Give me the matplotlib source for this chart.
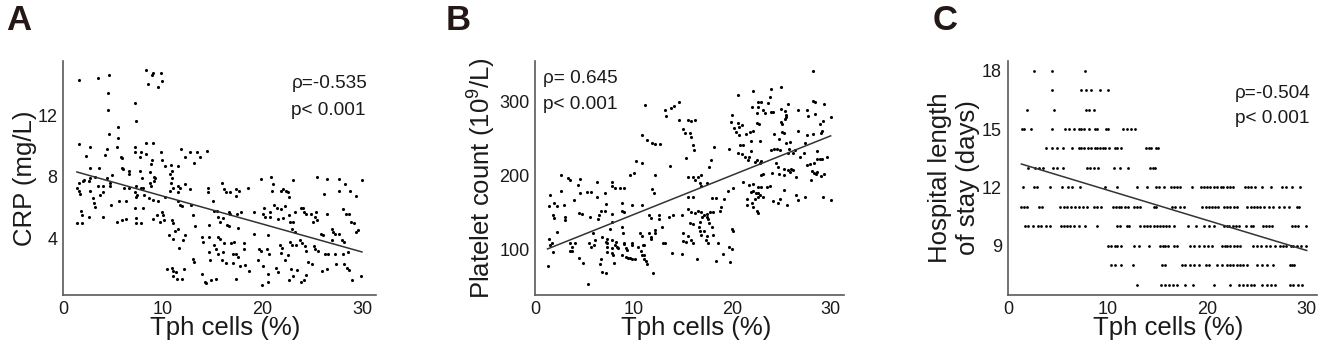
#!/usr/bin/env python3
import numpy as np
import matplotlib.pyplot as plt
plt.switch_backend('agg')

plt.rcParams['font.family'] = ['Liberation Sans', 'DejaVu Sans']
plt.rcParams['mathtext.fontset'] = 'custom'
plt.rcParams['mathtext.rm'] = 'Liberation Sans'

# ---- panel A: Tph cells (%) vs CRP (mg/L)
a_tph = [1.6, 3.5, 4.6, 4.5, 4.5, 8.3, 8.9, 9.0, 9.8, 8.5, 9.9, 9.5, 7.2, 7.3, 5.5, 4.6, 5.5,
         1.6, 2.7, 2.3, 4.4, 4.2, 5.4, 5.8, 5.95, 7.2, 7.2, 7.7, 7.8, 8.3, 9.0, 8.3, 9.8, 9.9,
         11.8, 12.2, 12.7, 13.5, 13.8, 13.1, 14.5, 8.9, 2.7, 3.6, 5.9, 6.0, 6.6, 6.6, 7.7, 8.7,
         8.8, 10.2, 10.8, 11.5, 10.9, 4.9, 2.7, 1.6, 2.0, 2.1, 1.6, 1.7, 1.4, 2.6, 2.7, 3.2,
         3.5, 4.0, 4.0, 3.7, 3.0, 3.1, 3.2, 4.4, 4.7, 4.7, 4.8, 1.8, 1.9, 1.4, 1.9, 2.6, 4.0,
         5.4, 5.9, 6.3, 5.6, 6.3, 6.1, 6.6, 7.2, 7.3, 7.9, 7.8, 8.0, 7.4, 7.3, 8.1, 7.2, 8.0,
         7.3, 7.3, 7.8, 8.6, 9.1, 9.2, 9.1, 8.7, 8.8, 9.5, 9.0, 9.0, 9.4, 9.7, 10.1, 9.9, 10.0,
         10.2, 10.7, 10.9, 10.8, 11.0, 10.7, 11.5, 11.7, 11.5, 11.5, 11.7, 11.9, 12.2, 12.7,
         12.8, 13.0, 10.9, 11.0, 11.2, 10.6, 11.0, 11.5, 11.6, 12.0, 12.2, 13.3, 14.0, 14.1,
         14.7, 14.7, 14.8, 15.2, 14.6, 14.6, 15.1, 14.7, 13.0, 13.1, 10.4, 10.9, 11.0, 11.3,
         11.0, 11.4, 11.9, 12.1, 14.0, 14.3, 14.4, 14.9, 15.4,
         16.0, 16.2, 16.4, 16.8, 17.4, 17.7, 18.6, 17.4, 19.85, 20.9, 21.1, 22.1, 22.4, 22.6,
         22.7, 21.9, 21.0, 23.1, 25.5, 26.5, 27.7, 28.3, 30.0, 26.2, 27.7, 28.8, 29.4, 15.2,
         15.5, 15.6, 15.8, 16.1, 16.7, 16.8, 17.5, 17.9, 16.5, 16.7, 17.6, 19.2, 20.2, 20.1,
         20.3, 21.2, 21.5, 21.9, 22.3, 20.8, 20.8, 21.6, 22.1, 22.7, 22.8, 23.1, 23.3, 23.9,
         24.1, 24.2, 24.4, 24.9, 25.4, 25.3, 25.1, 25.5, 26.5, 27.0, 27.1, 28.1, 28.4, 28.7,
         28.9, 29.2, 29.4, 29.6, 15.6, 15.8, 16.2, 15.4, 15.6, 16.1, 16.0, 16.4, 16.9, 17.2,
         18.2, 17.1, 17.4, 17.6, 17.1, 17.8, 18.3, 18.7, 17.4, 18.2, 19.7, 19.9, 19.2, 19.6,
         20.6, 20.5, 20.7, 20.1, 20.6, 20.0, 20.6, 21.4, 21.6, 21.8, 22.0, 21.9, 22.3, 22.6,
         23.0, 23.3, 22.8, 23.0, 23.4, 22.9, 23.5, 22.7, 23.1, 23.8, 24.0, 24.3, 24.4, 25.2,
         25.3, 25.6, 23.9, 24.2, 24.4, 24.6, 25.0, 25.9, 26.1, 26.3, 26.6, 26.0, 26.5, 27.3,
         27.4, 27.0, 27.3, 27.7, 28.0, 28.2, 28.1, 28.6, 28.2, 28.5, 28.7, 29.0, 29.9]
a_crp = [14.3, 14.4, 14.6, 13.4, 12.3, 14.9, 14.6, 14.7, 14.7, 14.0, 14.2, 13.8, 12.8, 11.6,
         11.2, 10.8, 10.5, 10.1, 9.9, 9.35, 9.8, 9.4, 9.9, 9.3, 9.2, 9.9, 9.6, 9.3, 9.6, 10.2,
         10.2, 9.5, 9.6, 9.1, 9.8, 9.3, 9.6, 9.6, 9.3, 8.9, 9.7, 9.1, 8.55, 8.6, 8.55, 8.5, 8.4,
         8.2, 8.4, 8.3, 8.8, 8.7, 8.75, 8.7, 8.4, 8.1, 7.9, 7.6, 7.7, 7.8, 7.1, 6.9, 7.3, 7.7,
         7.1, 8.0, 7.4, 7.4, 7.0, 6.8, 6.6, 6.3, 6.05, 7.9, 7.4, 7.6, 6.2, 5.8, 5.5, 5.0, 5.0,
         5.4, 5.4, 5.1, 5.2, 5.25, 6.4, 6.4, 7.3, 7.3, 7.0, 7.4, 7.9, 7.3, 7.3, 6.8, 6.7, 6.8,
         6.0, 6.0, 5.3, 5.0, 5.0, 6.6, 8.0, 7.9, 7.75, 7.6, 7.4, 6.4, 6.5, 5.25, 5.5, 5.1, 5.2,
         5.7, 5.5, 6.7, 8.2, 7.9, 7.6, 7.3, 7.1, 7.4, 7.3, 7.0, 6.4, 6.2, 6.1, 7.55, 7.2, 6.2,
         5.5, 5.2, 5.0, 4.5, 4.2, 4.0, 4.6, 3.4, 3.9, 4.2, 4.8, 4.1, 3.8, 4.1, 3.1, 2.6, 3.6,
         7.3, 7.0, 6.4, 4.9, 2.7, 2.5, 2.0, 2.1, 1.9, 1.8, 1.55, 1.4, 1.4, 2.0, 1.7, 1.2, 1.1,
         1.3, 1.4,
         7.6, 7.2, 7.0, 7.0, 7.2, 7.1, 7.3, 6.77, 7.85, 8.0, 7.55, 7.2, 7.1, 7.0, 6.7, 7.1,
         7.1, 7.8, 8.0, 7.85, 7.85, 7.5, 7.8, 6.9, 7.1, 7.1, 6.77, 5.75, 5.8, 5.4, 5.1, 5.3,
         5.7, 5.6, 5.6, 5.7, 4.9, 4.8, 4.7, 5.7, 6.0, 5.6, 5.4, 6.2, 5.95, 5.9, 6.1, 5.7, 5.4,
         5.25, 5.3, 5.5, 5.1, 5.1, 5.7, 6.0, 6.0, 5.7, 5.6, 5.6, 5.7, 5.4, 5.1, 5.2, 5.6, 4.6,
         4.4, 5.9, 5.6, 5.6, 5.1, 5.0, 4.4, 4.55, 4.1, 3.95, 3.7, 3.3, 3.0, 3.1, 2.6, 2.4, 3.7,
         3.8, 3.7, 3.0, 3.0, 2.8, 2.4, 2.2, 2.3, 1.9, 1.4, 3.3, 3.35, 3.2, 4.3, 2.6, 4.2, 3.3,
         3.0, 2.2, 1.7, 1.0, 1.2, 2.1, 1.8, 3.6, 3.4, 3.05, 2.6, 2.9, 4.6, 4.4, 3.8, 3.6, 3.6,
         2.0, 1.95, 1.3, 1.6, 3.9, 3.7, 3.5, 3.2, 3.5, 3.3, 3.2, 1.2, 1.3, 1.65, 2.5, 2.35, 4.3,
         4.2, 3.0, 3.0, 1.9, 2.0, 3.0, 2.35, 3.9, 4.3, 4.3, 3.9, 3.8, 3.0, 3.1, 2.35, 2.1, 1.95,
         1.3, 1.55]
a_line_x = [1.4, 30.0]
a_line_y = [8.31, 3.13]

# ---- panel B: Tph cells (%) vs platelet count
b_tph = [11.1, 13.2, 13.8, 14.1, 14.6, 13.3, 14.6, 15.0, 15.2, 10.8, 11.3, 11.8, 12.1, 12.6,
         10.2, 10.8, 13.7, 15.25, 2.6, 3.3, 3.5, 4.5, 4.3, 6.2, 7.8, 8.1, 8.6, 9.0, 9.6, 10.0,
         12.1, 1.45, 1.4, 2.6, 1.9, 2.2, 1.8, 1.9, 3.0, 3.0, 2.85, 3.9, 4.5, 5.2, 5.6, 4.4, 4.7,
         6.2, 7.05, 7.1, 7.8, 8.75, 9.8, 10.8, 11.8, 12.0, 8.75, 9.0, 6.6, 7.05, 6.4, 7.8, 5.5,
         6.3, 8.8, 8.9, 11.5, 11.7, 12.5, 12.5, 13.6, 14.0, 14.85, 7.8, 7.6, 2.2, 1.4, 1.5, 1.7,
         1.2, 1.75, 3.5, 3.7, 3.5, 3.7, 4.0, 4.4, 4.8, 5.3, 5.4, 5.6, 5.9, 5.8, 6.0, 6.7, 7.25,
         7.1, 7.2, 7.25, 7.25, 7.8, 8.1, 8.2, 8.3, 8.4, 7.8, 7.8, 7.9, 6.6, 6.5, 6.7, 7.1, 8.0,
         8.95, 9.0, 9.15, 9.3, 8.75, 9.15, 9.35, 9.8, 9.8, 9.6, 9.8, 10.1, 10.6, 10.8, 10.4,
         10.7, 11.0, 10.8, 11.0, 11.2, 11.3, 11.5, 11.7, 11.7, 10.9, 11.0, 11.9, 12.1, 12.1,
         12.95, 13.2, 13.9, 14.85, 12.8, 15.0, 15.0, 15.25,
         28.2, 20.6, 22.1, 23.97, 24.9, 22.6, 22.9, 23.6, 23.8, 22.5, 23.1, 23.35, 23.9, 24.1,
         21.99, 22.6, 24.9, 25.4, 25.5, 25.7, 24.9, 25.1, 25.4, 25.5, 26.7, 27.6, 27.7, 28.4,
         28.2, 28.4, 29.3, 20.0, 19.9, 20.6, 21.0, 20.7, 20.2, 20.4, 22.5, 22.7, 21.8, 22.1,
         21.4, 20.7, 21.9, 24.2, 25.1, 25.3, 26.7, 27.6, 28.2, 28.9, 29.0, 29.2, 29.1, 30.0,
         24.7, 25.5, 25.9, 22.8, 19.7, 20.8, 21.1, 20.6, 21.0, 21.3, 21.9, 21.7, 21.6, 22.27,
         22.8, 22.5, 22.95, 23.9, 24.2, 24.5, 24.8, 25.8, 26.4, 27.35, 24.4, 24.6, 24.7, 25.7,
         26.2, 26.9, 27.3, 28.6, 28.6, 28.9, 29.1, 29.6, 27.56, 27.9, 28.3, 28.1, 28.3, 28.5,
         28.6, 28.98, 29.3, 28.0, 25.3, 25.7, 26.0, 25.9, 26.2, 26.5, 23.1, 22.95, 23.99, 25.25,
         21.1, 21.7, 22.1, 22.6, 22.9, 23.5, 23.8, 21.86, 22.1, 22.4, 22.6, 22.8, 23.1, 22.6,
         21.5, 21.5, 22.0, 22.3, 22.1, 22.5, 22.6, 24.1, 24.6, 24.85, 25.3, 25.6, 26.5, 26.7,
         27.35, 29.25, 30.0, 15.5, 15.8, 16.2, 15.66, 15.8, 16.0, 16.1, 18.1, 17.8, 17.6, 15.5,
         15.96, 16.5, 16.8, 16.2, 16.7, 16.85, 17.45, 15.5, 15.96, 17.9, 18.3, 19.15, 18.8,
         18.75, 19.6, 20.1, 15.5, 15.8, 16.2, 16.5, 16.8, 16.9, 17.1, 17.4, 17.4, 17.7, 18.0,
         17.5, 17.6, 15.66, 15.96, 16.6, 16.7, 17.9, 17.1, 15.5, 15.76, 15.96, 16.7, 16.85,
         17.4, 17.3, 17.5, 18.07, 18.54, 19.96, 20.1, 19.7, 19.96, 16.4, 18.3, 19.08, 19.76]
b_plt = [296, 289, 291, 293.5, 299.6, 280, 275, 262.5, 258, 255.3, 248, 243.6, 242.7, 242.7,
         219, 216.5, 213, 223, 200.7, 196.2, 194, 195, 187.6, 190.7, 190.7, 183, 183.5, 183,
         200, 203, 200, 173.6, 158.7, 179.5, 162.3, 158.7, 146, 142.4, 144.2, 139.7, 159.6,
         166.8, 176.7, 177.6, 177.6, 149.6, 147.8, 171.3, 176.7, 161.4, 185.8, 163.2, 159.6,
         160.5, 181.3, 176.7, 152.3, 151, 152.3, 152.3, 146, 147.8, 144.2, 140.6, 130.7, 121.6,
         146, 142.4, 146, 140.6, 144.2, 147, 146, 137.4, 127, 123.4, 114.4, 105.4, 109, 77.8,
         96.8, 109, 103.6, 97.2, 97.2, 108, 88.2, 81, 53, 108, 103.6, 105.4, 122.5, 112.6, 117,
         113.5, 110, 108, 103.6, 96.3, 112.6, 106.3, 110, 103.6, 101, 101, 94.5, 92, 86.4, 80,
         69.2, 67.4, 81.9, 107, 109, 101, 99, 92.7, 89, 88.2, 109, 105.4, 88.2, 87.3, 86.4,
         121.6, 118, 103.6, 97.2, 92, 92.7, 86.4, 83.7, 80, 122.5, 117, 113.5, 105.4, 105.4,
         67.4, 126, 121.6, 108, 109, 95.4, 93.6, 130.7, 121.6, 111, 110,
         341.6, 309.5, 315, 316.8, 319.5, 300, 300, 297.8, 306, 284.2, 288.8, 285.1, 285.6,
         285.6, 293.3, 292.4, 289.7, 287, 282.4, 296.9, 272.5, 269.8, 276.1, 279.7, 288.8, 288.8,
         280.6, 283.3, 300.5, 299.1, 296.9, 282, 272.5, 271.6, 268.4, 265.3, 263.9, 259.4, 270.7,
         269.3, 259, 260.7, 256.2, 254.4, 247.2, 256.2, 259, 257.1, 260.3, 254.9, 256.2, 269.8,
         258, 273.4, 260.7, 278.8, 249.5, 244.5, 245.8, 246.7, 236.4, 240.9, 241.3, 230, 228.7,
         225.5, 233.6, 224.6, 221, 218.7, 216.5, 221, 220, 234.5, 235.5, 235.9, 234.5, 236.4,
         234.5, 243.6, 217.4, 211.1, 202, 231, 231, 225.5, 230, 233.6, 222.8, 221.9, 222.8,
         224.6, 214.2, 215.1, 216.5, 206.6, 203, 202, 204.7, 199.3, 202, 193.9, 208.4, 207.5,
         209.3, 204.7, 207.5, 198.4, 202, 200.2, 203.8, 201.1, 191.6, 187.1, 188.5, 184, 184.9,
         184, 185.8, 178.1, 178.5, 175.8, 176.7, 173.6, 171.3, 170.4, 167.7, 160.5, 162.3, 167.7,
         156.9, 152.3, 149.6, 165.9, 162.3, 167.7, 180.3, 160.5, 173.6, 166.8, 170.4, 170.4,
         166.8, 275.2, 274.3, 275.2, 257.1, 251.7, 240.9, 234.5, 239, 221, 212, 197.5, 197.5,
         198.4, 200.2, 193.9, 189.4, 185.8, 190.3, 170.4, 170.4, 169, 169, 167.7, 157.8, 152.3,
         179.4, 182.6, 155, 151, 148.7, 152.3, 151, 144.2, 147, 147.8, 143.3, 150.5, 150.5,
         141.5, 135.2, 135.2, 134.3, 130.7, 137, 130.7, 124.3, 118, 112.6, 109, 124.3, 119.8,
         118, 112.6, 109, 119, 108, 127, 125.2, 103.6, 100.9, 86.4, 84.6, 93.6, 83.2]
b_line_x = [1.2, 30.0]
b_line_y = [100.4, 253.6]

# ---- panel C: Tph cells (%) for each hospital length of stay (days)
stay_18 = [2.55, 4.4, 7.7]
stay_17 = [4.4, 7.25, 7.8, 8.25, 9.2, 10.0]
stay_16 = [1.8, 4.6, 7.8, 8.05, 8.6]
stay_15 = [1.3, 1.55, 2.2, 4.4, 5.7, 6.1, 6.6, 7.05, 7.25, 7.6, 8.05, 8.66, 8.9, 9.8, 10.0,
           11.5, 11.95, 12.3, 12.7]
stay_14 = [3.8, 4.4, 4.9, 5.5, 6.4, 7.05, 7.3, 7.6, 8.0, 8.3, 8.66, 8.9, 9.2, 9.5, 9.7,
           10.07, 10.7, 10.9, 11.3, 13.8, 14.1, 14.3, 14.8, 15.0]
stay_13 = [1.9, 2.7, 3.05, 3.45, 4.5, 4.9, 5.5, 7.9, 8.2, 8.55, 8.96, 10.6, 11.2, 12.0,
           14.2, 14.5, 14.7]
stay_12 = [1.48, 2.55, 2.9, 4.2, 5.4, 6.0, 6.4, 7.2, 9.7, 10.95, 12.95, 13.9, 14.8, 15.1,
           15.6, 16.3, 16.6, 16.9, 17.25, 18.5, 19.4, 19.7, 20.0, 20.3, 20.7, 21.0, 21.35, 21.6,
           21.95, 22.3, 22.6, 23.8, 24.1, 24.4, 24.8, 25.5, 26.4, 27.5, 27.9, 28.5, 29.3]
stay_11 = [1.28, 1.54, 1.8, 3.1, 3.35, 5.2, 5.6, 5.9, 6.3, 6.7, 7.1, 7.5, 7.9, 8.6, 8.9,
           9.3, 10.5, 10.8, 11.1, 11.35, 11.7, 12.0, 12.6, 12.95, 13.2, 14.6, 14.8, 16.4, 16.7,
           17.25, 17.6, 19.5, 19.9, 20.2, 20.5, 20.8, 21.1, 21.7, 22.0, 22.3, 22.7, 23.0, 24.0,
           24.35, 24.7, 25.0, 25.3, 25.7, 26.2, 26.6, 27.2, 27.7, 28.2, 29.0, 29.2]
stay_10 = [1.6, 1.9, 2.5, 2.95, 3.3, 3.8, 4.2, 5.3, 5.6, 5.9, 6.2, 6.6, 7.1, 7.7, 8.9, 10.9,
           11.2, 11.9, 12.1, 13.2, 13.6, 13.9, 14.2, 14.6, 14.9, 15.2, 15.5, 15.8, 16.1, 16.6,
           18.1, 18.9, 19.7, 20.2, 20.7, 21.7, 21.95, 22.2, 22.55, 22.9, 23.2, 23.9, 24.4, 24.6,
           25.6, 25.9, 26.2, 26.5, 28.5, 28.8, 29.1, 29.9]
stay_9 = [10.0, 10.3, 10.7, 10.9, 11.3, 12.6, 13.1, 14.1, 15.2, 15.5, 15.75, 16.0, 16.6, 16.9,
          18.3, 18.7, 19.2, 19.7, 20.1, 20.5, 21.5, 21.75, 22.0, 22.3, 22.7, 23.0, 23.3, 24.6,
          24.95, 25.4, 25.9, 26.3, 26.8, 27.3, 27.6, 27.95, 28.4, 28.65, 29.0, 29.4, 29.9]
stay_8 = [10.3, 10.7, 11.3, 12.5, 15.4, 15.75, 17.4, 17.7, 18.25, 18.7, 19.2, 19.9, 20.2, 21.0,
          21.5, 21.95, 22.3, 22.6, 23.0, 23.3, 23.6, 23.95, 24.95, 25.5, 26.0, 26.6, 28.3, 28.5,
          28.7]
stay_7 = [12.95, 15.3, 15.7, 16.1, 16.5, 16.9, 17.7, 18.6, 20.7, 22.3, 23.2, 23.6, 24.0, 24.4,
          24.7, 25.5, 26.0, 26.4, 26.8, 28.3, 28.65, 29.1, 29.5]
c_line_x = [1.28, 30.0]
c_line_y = [13.2, 8.75]

TXT = '#1a1a1a'
SPINE = '#5a5a5a'
LABEL_FS = 18.5
TICK_FS = 13
NOTE_FS = 13.7


def style(ax, xlim, ylim, yticks):
    ax.set_xlim(*xlim)
    ax.set_ylim(*ylim)
    ax.set_xticks([0, 10, 20, 30])
    ax.set_yticks(yticks)
    for s in ('top', 'right'):
        ax.spines[s].set_visible(False)
    for s in ('left', 'bottom'):
        ax.spines[s].set_color(SPINE)
        ax.spines[s].set_linewidth(1.2)
    ax.tick_params(length=0, pad=4, labelsize=TICK_FS, labelcolor=TXT)
    ax.set_xlabel('Tph cells (%)', fontsize=LABEL_FS, color=TXT)
    ax.xaxis.set_label_coords(0.52, -0.09)


def main():
    fig = plt.figure(figsize=(13.25, 3.48), dpi=100)
    axA = fig.add_axes([0.0475, 0.1523, 0.2362, 0.6724])
    axB = fig.add_axes([0.4038, 0.1523, 0.2332, 0.6724])
    axC = fig.add_axes([0.7605, 0.1523, 0.2332, 0.6724])

    # A
    axA.scatter(a_tph, a_crp, s=5, color='black', linewidths=0)
    axA.plot(a_line_x, a_line_y, color='#333333', lw=1.1)
    style(axA, (0, 31.4), (0.34, 15.5), [4, 8, 12])
    axA.set_ylabel('CRP (mg/L)', fontsize=LABEL_FS, color=TXT, va='center')
    axA.yaxis.set_label_coords(-0.121, 0.5)
    axA.text(0.73, 0.905, 'ρ=-0.535', transform=axA.transAxes, fontsize=NOTE_FS,
             color=TXT, va='center')
    axA.text(0.73, 0.79, 'p< 0.001', transform=axA.transAxes, fontsize=NOTE_FS,
             color=TXT, va='center')

    # B
    axB.scatter(b_tph, b_plt, s=5, color='black', linewidths=0)
    axB.plot(b_line_x, b_line_y, color='#333333', lw=1.1)
    style(axB, (-0.07, 31.36), (38, 355), [100, 200, 300])
    axB.set_ylabel('Platelet count (10$^{9}$/L)', fontsize=LABEL_FS, color=TXT,
                   va='center')
    axB.yaxis.set_label_coords(-0.176, 0.5)
    axB.text(0.027, 0.926, 'ρ= 0.645', transform=axB.transAxes, fontsize=NOTE_FS,
             color=TXT, va='center')
    axB.text(0.027, 0.812, 'p< 0.001', transform=axB.transAxes, fontsize=NOTE_FS,
             color=TXT, va='center')

    # C
    rows = [(18, stay_18), (17, stay_17), (16, stay_16), (15, stay_15), (14, stay_14),
            (13, stay_13), (12, stay_12), (11, stay_11), (10, stay_10), (9, stay_9),
            (8, stay_8), (7, stay_7)]
    for days, xs in rows:
        axC.scatter(xs, [days] * len(xs), s=4, color='black', linewidths=0)
    axC.plot(c_line_x, c_line_y, color='#333333', lw=1.1)
    style(axC, (-0.1, 31.0), (6.46, 18.5), [9, 12, 15, 18])
    axC.set_ylabel('Hospital length\nof stay (days)', fontsize=LABEL_FS, color=TXT,
                   va='center', linespacing=1.25)
    axC.yaxis.set_label_coords(-0.174, 0.5)
    axC.text(0.736, 0.862, 'ρ=-0.504', transform=axC.transAxes, fontsize=NOTE_FS,
             color=TXT, va='center')
    axC.text(0.736, 0.755, 'p< 0.001', transform=axC.transAxes, fontsize=NOTE_FS,
             color=TXT, va='center')

    # panel letters
    for x, lab in ((6, 'A'), (446, 'B'), (933, 'C')):
        fig.text(x / 1325, 1 - 4 / 348, lab, fontsize=25, fontweight='bold',
                 color='#231815', va='top', ha='left')

    fig.savefig('out.png', dpi=100)


if __name__ == '__main__':
    main()
